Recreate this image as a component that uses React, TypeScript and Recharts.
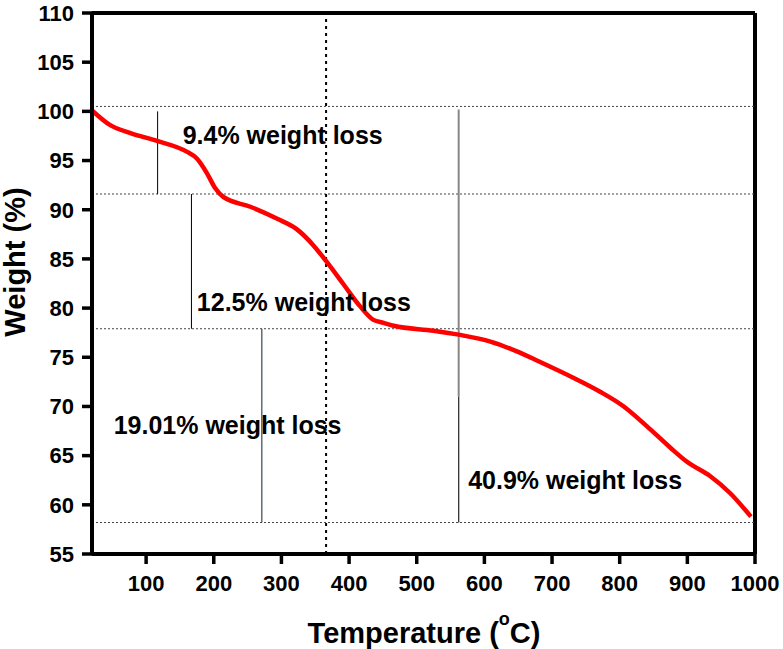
import React from "react";
import {
  ComposedChart,
  Line,
  Scatter,
  XAxis,
  YAxis,
  ReferenceLine,
} from "recharts";

// TGA curve
const temps = [
  20, 47, 77, 116, 160, 175, 190, 202, 214, 254, 293, 323, 347, 367, 392, 416,
  436, 451, 466, 525, 562, 609, 648, 680, 732, 771, 806, 840, 875, 899, 934, 963,
  994,
];
const weights = [
  100.1, 98.6, 97.8, 97.0, 95.9, 95.2, 93.7, 92.2, 91.3, 90.3, 89.1, 88.0, 86.4,
  84.7, 82.4, 80.2, 78.8, 78.5, 78.2, 77.7, 77.3, 76.6, 75.6, 74.6, 72.9, 71.5,
  70.0, 68.0, 65.8, 64.4, 62.9, 61.2, 58.8,
];

const xTicks = [100, 200, 300, 400, 500, 600, 700, 800, 900, 1000];
const yTicks = [55, 60, 65, 70, 75, 80, 85, 90, 95, 100, 105, 110];

// dotted step levels and the marker line
const levels = [100.5, 91.6, 77.9, 58.2];
const markerTemp = 366;

// solid vertical brackets: [temp, from, to, colour, width]
const brackets: [number, number, number, string, number][] = [
  [117, 100, 91.6, "#000", 1],
  [167, 91.6, 77.9, "#000", 1],
  [271, 77.9, 58.2, "#4a5560", 1.3],
  [562, 100.2, 71, "#888", 2],
  [562, 71, 58.2, "#333", 1.3],
];

const notes = [
  { t: 154, w: 97.6, text: "9.4% weight loss" },
  { t: 175, w: 80.6, text: "12.5% weight loss" },
  { t: 52, w: 68.1, text: "19.01% weight loss" },
  { t: 576, w: 62.5, text: "40.9% weight loss" },
];

const curve = temps.map((t, i) => ({ t, w: weights[i] }));

const font = "Arial, 'Liberation Sans', sans-serif";
const tickStyle = { fontFamily: font, fontWeight: 700, fontSize: 22, fill: "#000" };

const NoteText = (props: any) => (
  <text
    x={props.cx}
    y={props.cy}
    dominantBaseline="central"
    fontFamily={font}
    fontWeight={700}
    fontSize={25}
    fill="#000"
  >
    {props.payload.text}
  </text>
);

export default function App() {
  return (
    <div style={{ position: "absolute", left: 0, top: 0 }}>
      <ComposedChart
        width={783}
        height={649}
        margin={{ top: 13, right: 28, bottom: 55, left: 0 }}
      >
        <XAxis
          dataKey="t"
          type="number"
          domain={[20, 1000]}
          ticks={xTicks}
          allowDataOverflow
          tick={tickStyle}
          tickSize={10}
          tickMargin={11}
          height={40}
          axisLine={{ stroke: "#000", strokeWidth: 4 }}
          tickLine={{ stroke: "#000", strokeWidth: 3.5 }}
          label={{
            content: () => (
              <text
                x={424}
                y={643}
                textAnchor="middle"
                fontFamily={font}
                fontWeight={700}
                fontSize={29}
                fill="#000"
              >
                <tspan>Temperature (</tspan>
                <tspan dy={-18} fontSize={18}>o</tspan>
                <tspan dy={18}>C)</tspan>
              </text>
            ),
          }}
        />
        <YAxis
          type="number"
          domain={[55, 110]}
          ticks={yTicks}
          allowDataOverflow
          width={92}
          tick={tickStyle}
          tickSize={10}
          tickMargin={8}
          axisLine={{ stroke: "#000", strokeWidth: 4 }}
          tickLine={{ stroke: "#000", strokeWidth: 3.5 }}
          label={{
            content: () => (
              <text
                x={15}
                y={262}
                transform="rotate(-90 15 262)"
                textAnchor="middle"
                dominantBaseline="central"
                fontFamily={font}
                fontWeight={700}
                fontSize={29}
                fill="#000"
              >
                Weight (%)
              </text>
            ),
          }}
        />

        {/* frame top and right */}
        <ReferenceLine y={110} stroke="#000" strokeWidth={4} />
        <ReferenceLine x={1000} stroke="#000" strokeWidth={4} />

        {levels.map((v) => (
          <ReferenceLine
            key={"l" + v}
            y={v}
            stroke="#444"
            strokeWidth={1}
            strokeDasharray="2 2"
          />
        ))}
        <ReferenceLine
          x={markerTemp}
          stroke="#000"
          strokeWidth={2}
          strokeDasharray="3 4"
        />

        {brackets.map(([t, a, b, c, sw], i) => (
          <ReferenceLine
            key={"b" + i}
            segment={[
              { x: t, y: a },
              { x: t, y: b },
            ]}
            stroke={c}
            strokeWidth={sw}
          />
        ))}

        <Line
          data={curve}
          dataKey="w"
          type="monotone"
          stroke="#ff0000"
          strokeWidth={4.5}
          dot={false}
          isAnimationActive={false}
        />
        <Scatter
          data={notes}
          dataKey="w"
          shape={NoteText}
          isAnimationActive={false}
        />
      </ComposedChart>
    </div>
  );
}
